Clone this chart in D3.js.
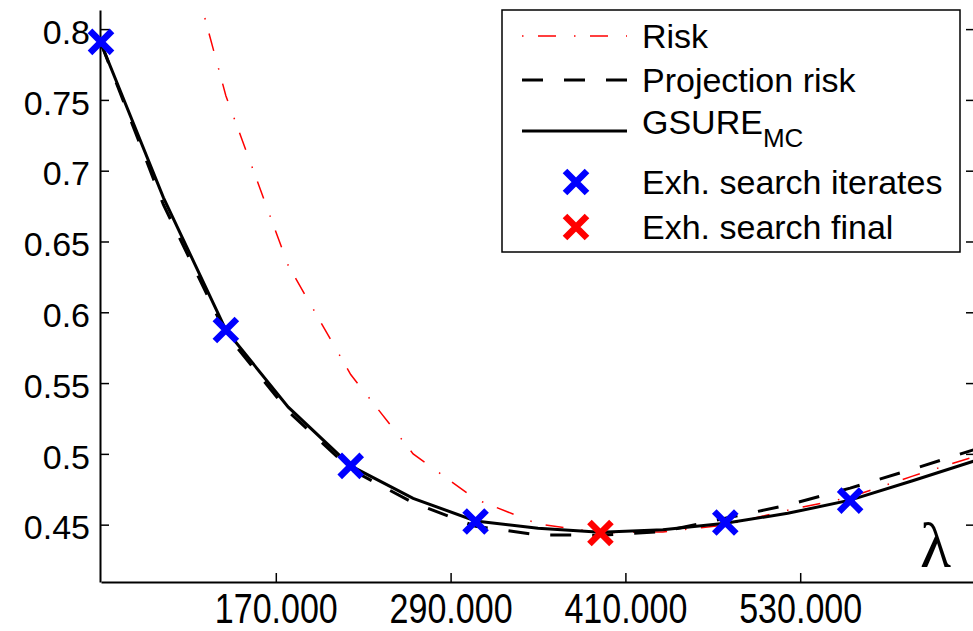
<!DOCTYPE html>
<html>
<head>
<meta charset="utf-8">
<script src="https://cdn.jsdelivr.net/npm/d3@7"></script>
<style>
  body { margin: 0; background: #fff; }
  svg { display: block; font-family: 'Liberation Sans', Arial, sans-serif; }
</style>
</head>
<body>
<div id="chart"></div>
<script>
// lambda grid and curve values
const lambdas = [50000, 92857, 135714, 178571, 221429, 264286, 307143, 350000,
  392857, 435714, 478571, 521429, 564286, 607143, 650000];
const risk = [1.13, 0.916, 0.753, 0.633, 0.556, 0.500, 0.468, 0.4505,
  0.4443, 0.4449, 0.4497, 0.4602, 0.4694, 0.4843, 0.4982];
const projectionRisk = [0.790, 0.676, 0.585, 0.530, 0.489, 0.4655, 0.4488, 0.4428,
  0.4425, 0.4451, 0.4545, 0.4638, 0.4758, 0.4892, 0.5032];
const gsure = [0.790, 0.681, 0.5875, 0.533, 0.4915, 0.4686, 0.4526, 0.4475,
  0.4446, 0.4464, 0.4510, 0.4580, 0.4673, 0.4810, 0.4951];

const iterLambdas = [50000, 135714, 221429, 307143, 478571, 564286];
const iterValues = [0.791, 0.5875, 0.4915, 0.4522, 0.4515, 0.4670];
const finalLambdas = [392857];
const finalValues = [0.4441];

const xTicks = [170000, 290000, 410000, 530000];
const yTicks = [0.45, 0.5, 0.55, 0.6, 0.65, 0.7, 0.75, 0.8];

const legendLabels = ['Risk', 'Projection risk', 'GSURE', 'Exh. search iterates', 'Exh. search final'];

const settings = {
  color: {
    risk: 'rgb(255, 0, 0)',
    line: 'rgb(0, 0, 0)',
    iterate: 'rgb(0, 0, 255)',
    final: 'rgb(255, 0, 0)'
  },
  fontSize: 34
};

const
  totalWidth = 973,
  totalHeight = 631;
const
  plot = { left: 101, right: 975, top: 10, bottom: 582 };

//--------------------- SVG ----------------------------------------------------
const svg = d3.select('#chart').append('svg')
  .attr('width', totalWidth)
  .attr('height', totalHeight);

svg.append('rect')
  .attr('width', totalWidth)
  .attr('height', totalHeight)
  .attr('fill', '#fff');

svg.append('clipPath')
  .attr('id', 'plotClip')
  .append('rect')
    .attr('x', plot.left)
    .attr('y', plot.top)
    .attr('width', plot.right - plot.left)
    .attr('height', plot.bottom - plot.top);

//-------------------- Scales --------------------------------------------------
const xScale = d3.scaleLinear().domain([50000, 650000]).range([plot.left, plot.right]);
const yScale = d3.scaleLinear().domain([0.4095, 0.8135]).range([plot.bottom, plot.top]);

const numberLocale = d3.formatLocale({ decimal: ',', thousands: '.', grouping: [3], currency: ['', ''] });
const xFormat = numberLocale.format(',');

//---------------------- Axis --------------------------------------------------
const styleAxis = (g) => {
  g.select('.domain').attr('stroke', '#000').attr('stroke-width', 2);
  g.selectAll('.tick line').attr('stroke', '#000').attr('stroke-width', 1.5);
  g.selectAll('text')
    .attr('fill', '#000')
    .style('font-size', settings.fontSize + 'px');
};

const xAxis = d3.axisBottom(xScale).tickValues(xTicks).tickFormat(xFormat)
  .tickSizeInner(-9).tickSizeOuter(0).tickPadding(11);
const xAxisView = svg.append('g')
  .attr('transform', 'translate(0,' + plot.bottom + ')')
  .call(xAxis)
  .call(styleAxis);
// x labels in the source are a taller, condensed face
xAxisView.selectAll('text')
  .style('font-size', '42px')
  .attr('textLength', 123)
  .attr('lengthAdjust', 'spacingAndGlyphs');

const yAxis = d3.axisLeft(yScale).tickValues(yTicks).tickFormat(d3.format('~g'))
  .tickSizeInner(-9).tickSizeOuter(0).tickPadding(10);
const yAxisView = svg.append('g')
  .attr('transform', 'translate(' + (plot.left - 1) + ',0)')
  .call(yAxis)
  .call(styleAxis);
yAxisView.selectAll('text').attr('dy', '0.42em');

const rightAxis = d3.axisRight(yScale).tickValues(yTicks).tickFormat('')
  .tickSizeInner(-9).tickSizeOuter(0);
svg.append('g')
  .attr('transform', 'translate(' + plot.right + ',0)')
  .call(rightAxis)
  .call(styleAxis);

//--------------------- Lines --------------------------------------------------
const line = d3.line()
  .x(d => xScale(d[0]))
  .y(d => yScale(d[1]));

const linesGroup = svg.append('g').attr('clip-path', 'url(#plotClip)');

linesGroup.append('path')
  .datum(d3.zip(lambdas, risk))
  .attr('d', line)
  .attr('fill', 'none')
  .attr('stroke', settings.color.risk)
  .attr('stroke-width', 1.5)
  .attr('stroke-dasharray', '1.5,14.5,18,18');

linesGroup.append('path')
  .datum(d3.zip(lambdas, projectionRisk))
  .attr('d', line)
  .attr('fill', 'none')
  .attr('stroke', settings.color.line)
  .attr('stroke-width', 3)
  .attr('stroke-dasharray', '21,21');

linesGroup.append('path')
  .datum(d3.zip(lambdas, gsure))
  .attr('d', line)
  .attr('fill', 'none')
  .attr('stroke', settings.color.line)
  .attr('stroke-width', 3);

//--------------------- Markers ------------------------------------------------
const cross = (r) => 'M' + (-r) + ',' + (-r) + 'L' + r + ',' + r + 'M' + (-r) + ',' + r + 'L' + r + ',' + (-r);

const drawCrosses = (xs, ys, color) => {
  svg.append('g')
    .selectAll('path')
    .data(d3.zip(xs, ys))
    .enter()
    .append('path')
      .attr('transform', d => 'translate(' + xScale(d[0]) + ',' + yScale(d[1]) + ')')
      .attr('d', cross(11))
      .attr('stroke', color)
      .attr('stroke-width', 6.5)
      .attr('fill', 'none');
};
drawCrosses(iterLambdas, iterValues, settings.color.iterate);
drawCrosses(finalLambdas, finalValues, settings.color.final);

//--------------------- Lambda label -------------------------------------------
svg.append('text')
  .attr('x', 920)
  .attr('y', 567)
  .style('font-family', "'Liberation Serif', 'DejaVu Serif', serif")
  .style('font-size', '64px')
  .text('λ');

//--------------------- Legend -------------------------------------------------
const legend = svg.append('g');
legend.append('rect')
  .attr('x', 502)
  .attr('y', 10)
  .attr('width', 458)
  .attr('height', 242)
  .attr('fill', '#fff')
  .attr('stroke', '#000')
  .attr('stroke-width', 1.5);

const legendRows = [36, 80, 131, 182, 227];
const sample = { x1: 522, x2: 627 };
const textX = 642;

legend.append('line')
  .attr('x1', sample.x1).attr('x2', sample.x2)
  .attr('y1', legendRows[0]).attr('y2', legendRows[0])
  .attr('stroke', settings.color.risk).attr('stroke-width', 1.5)
  .attr('stroke-dasharray', '1.5,14.5,18,18');
legend.append('line')
  .attr('x1', sample.x1).attr('x2', sample.x2)
  .attr('y1', legendRows[1]).attr('y2', legendRows[1])
  .attr('stroke', settings.color.line).attr('stroke-width', 3)
  .attr('stroke-dasharray', '21,21');
legend.append('line')
  .attr('x1', sample.x1).attr('x2', sample.x2)
  .attr('y1', legendRows[2]).attr('y2', legendRows[2])
  .attr('stroke', settings.color.line).attr('stroke-width', 3);

[[3, settings.color.iterate], [4, settings.color.final]].forEach(([i, color]) => {
  legend.append('path')
    .attr('transform', 'translate(576,' + legendRows[i] + ')')
    .attr('d', cross(11))
    .attr('stroke', color)
    .attr('stroke-width', 6.5)
    .attr('fill', 'none');
});

const legendText = legend.append('g')
  .style('font-size', settings.fontSize + 'px')
  .attr('fill', '#000');

legendText.append('text').attr('x', textX).attr('y', 48).text(legendLabels[0]);
legendText.append('text').attr('x', textX).attr('y', 92).text(legendLabels[1]);
const gsureText = legendText.append('text').attr('x', textX).attr('y', 134);
gsureText.append('tspan').text(legendLabels[2]);
gsureText.append('tspan').attr('dy', 13).style('font-size', '26px').text('MC');
legendText.append('text').attr('x', textX).attr('y', 194).text(legendLabels[3]);
legendText.append('text').attr('x', textX).attr('y', 239).text(legendLabels[4]);
</script>
</body>
</html>
